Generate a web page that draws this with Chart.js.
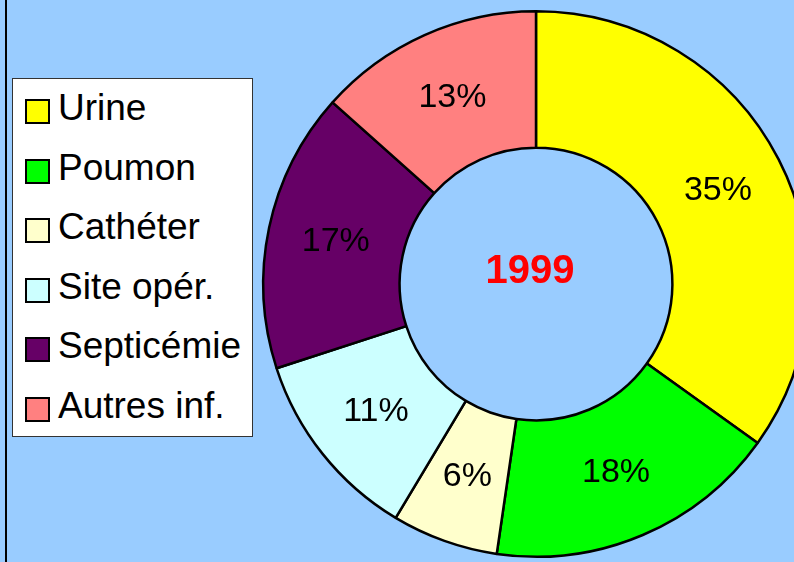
<!DOCTYPE html>
<html>
<head>
<meta charset="utf-8">
<script src="https://cdn.jsdelivr.net/npm/chart.js@4/dist/chart.umd.min.js"></script>
<style>
  html, body { margin: 0; padding: 0; }
  body {
    width: 794px; height: 562px; overflow: hidden; position: relative;
    background: #99ccff; font-family: 'Liberation Sans', Arial, sans-serif;
  }
  #wrap { position: absolute; left: 0; top: 0; width: 830px; height: 570px; }
  #edge { position: absolute; left: 5px; top: 0; width: 2px; height: 562px; background: #000; }
  #legend {
    position: absolute; left: 12px; top: 78px; width: 239px; height: 357px;
    background: #fff; border: 1px solid #333;
  }
  .row { position: absolute; left: 0; height: 40px; width: 239px; }
  .box {
    position: absolute; left: 12px; top: 9px; width: 21px; height: 21px;
    border: 2px solid #000;
  }
  .lbl {
    position: absolute; left: 45px; top: -1px; font-size: 37px; line-height: 37px;
    color: #000; white-space: nowrap;
  }
</style>
</head>
<body>
<div id="wrap"><canvas id="chart" width="830" height="570"></canvas></div>
<div id="edge"></div>
<div id="legend"></div>
<script>
const labels = ['Urine', 'Poumon', 'Cathéter', 'Site opér.', 'Septicémie', 'Autres inf.']
// slice sizes as measured on the picture (share of the ring, %)
const shares = [34.9, 17.4, 6.3, 11.4, 16.6, 13.4]
// percent texts printed on the slices
const pctLabels = ['35%', '18%', '6%', '11%', '17%', '13%']
const colors = ['#ffff00', '#00ff00', '#ffffcc', '#ccffff', '#660066', '#ff8080']
const centerTitle = '1999'

// legend (html, built from the arrays)
const legend = document.getElementById('legend')
labels.forEach((name, i) => {
  const row = document.createElement('div')
  row.className = 'row'
  row.style.top = (11 + i * 59.6) + 'px'
  row.innerHTML = '<div class="box" style="background:' + colors[i] + '"></div>' +
    '<div class="lbl">' + name + '</div>'
  legend.appendChild(row)
})

// percent labels + year in the hole
const labelPlugin = {
  id: 'labelPlugin',
  afterDatasetsDraw(chart) {
    const ctx = chart.ctx
    const meta = chart.getDatasetMeta(0)
    ctx.save()
    ctx.textAlign = 'center'
    ctx.textBaseline = 'middle'
    ctx.fillStyle = '#000'
    ctx.font = '34px "Liberation Sans", Arial, sans-serif'
    meta.data.forEach((arc, i) => {
      const p = arc.tooltipPosition()
      ctx.fillText(pctLabels[i], p.x, p.y)
    })
    const c = meta.data[0]
    ctx.fillStyle = '#ff0000'
    ctx.font = 'bold 40px "Liberation Sans", Arial, sans-serif'
    ctx.fillText(centerTitle, c.x - 6, c.y - 12)
    ctx.restore()
  }
}

new Chart(document.getElementById('chart'), {
  type: 'doughnut',
  data: {
    labels: labels,
    datasets: [{
      data: shares,
      backgroundColor: colors,
      borderColor: '#000',
      borderWidth: 2.5,
      hoverOffset: 0
    }]
  },
  options: {
    responsive: false,
    animation: false,
    events: [],
    cutout: '50%',
    layout: { padding: { left: 262, top: 10, right: 20, bottom: 12 } },
    plugins: {
      legend: { display: false },
      tooltip: { enabled: false }
    }
  },
  plugins: [labelPlugin]
})
</script>
</body>
</html>
